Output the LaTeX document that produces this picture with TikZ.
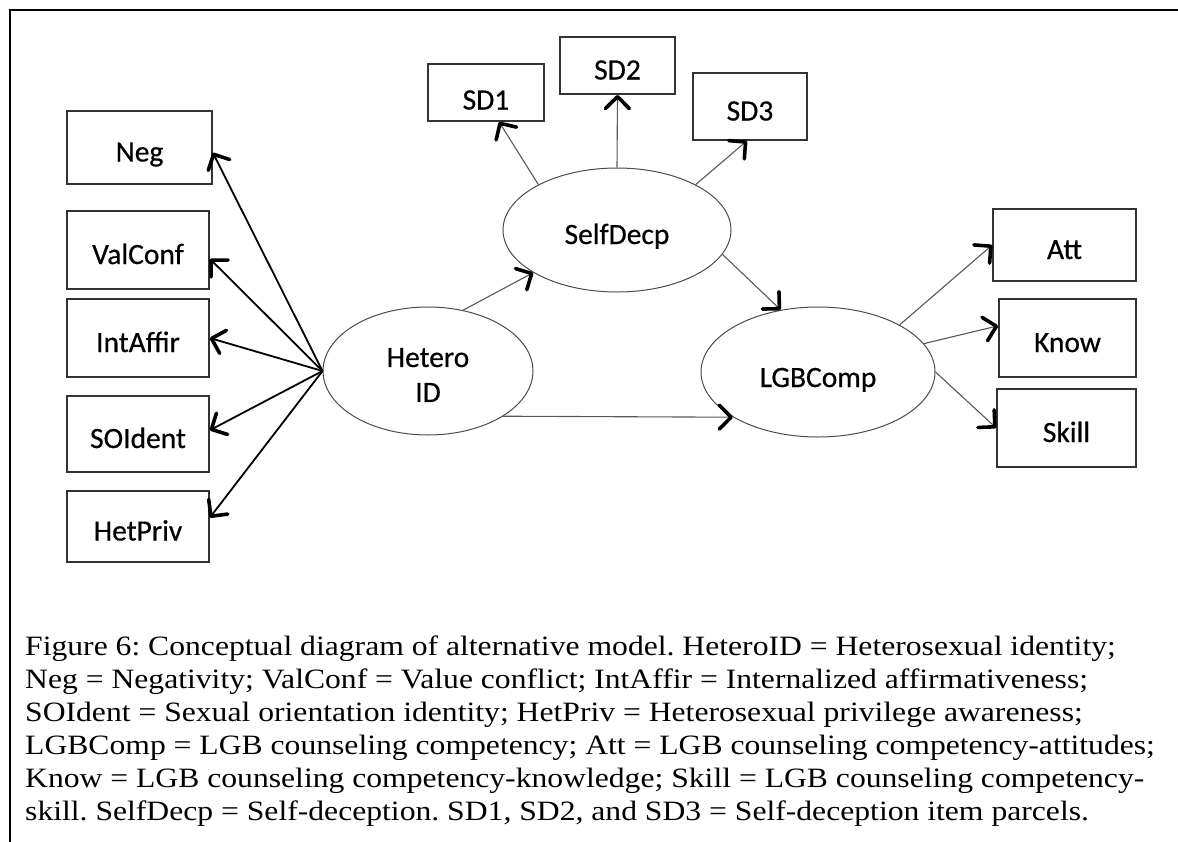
\documentclass[tikz,border=0pt]{standalone}
\usepackage{fontspec}
\setmainfont{Liberation Serif}
\newfontfamily\capfont[FakeStretch=1.13]{Liberation Serif}
\newfontfamily\carl[FakeBold=0.5]{Carlito}
\usetikzlibrary{shapes.geometric,arrows.meta}
\frenchspacing
\begin{document}
\begin{tikzpicture}[x=1pt,y=-1pt,
  boxfont/.style={font=\carl\fontsize{29.5}{35}\selectfont},
  box/.style={boxfont, draw=black!80, line width=1.6pt, inner sep=0pt, text height=28pt, text depth=0pt},
  lat/.style={boxfont, ellipse, draw=black!70, line width=1pt, inner sep=0pt, text height=28pt, text depth=0pt},
  head/.style={-{Straight Barb[length=12pt,width=24pt,line width=3.6pt,round,color=black]}},
  boldarr/.style={head, draw=black, line width=1.8pt},
  thinarr/.style={head, draw=black!65, line width=1.1pt},
  capline/.style={anchor=base west, inner sep=0pt, font=\capfont\fontsize{28}{33}\selectfont}
]
\useasboundingbox (0,0) rectangle (1178,841);
\fill[white] (0,0) rectangle (1178,841);
% frame
\draw[line width=2.6pt] (10,845) -- (10,10) -- (1185,10);

% indicator boxes left
\node[box, minimum width=145pt, minimum height=73pt] (neg) at (139.5,147.5) {Neg};
\node[box, minimum width=142pt, minimum height=78pt] (valconf) at (138,250) {ValConf};
\node[box, minimum width=142pt, minimum height=78pt] (intaffir) at (138,338) {IntAffir};
\node[box, minimum width=142pt, minimum height=76pt] (soident) at (138,434) {SOIdent};
\node[box, minimum width=142pt, minimum height=71pt] (hetpriv) at (138,526.5) {HetPriv};

% SD boxes
\node[box, minimum width=116pt, minimum height=57pt] (sd1) at (486,92.5) {\raisebox{-3pt}{SD1}};
\node[box, minimum width=115pt, minimum height=57pt] (sd2) at (617.5,65.5) {SD2};
\node[box, minimum width=114pt, minimum height=67pt] (sd3) at (750,106.5) {SD3};

% right boxes
\node[box, minimum width=143pt, minimum height=72pt] (att) at (1064.5,245) {Att};
\node[box, minimum width=137pt, minimum height=78pt] (know) at (1067.5,338) {Know};
\node[box, minimum width=139pt, minimum height=78pt] (skill) at (1066.5,428) {Skill};

% latent variables
\node[lat, minimum width=210pt, minimum height=128pt,
      label={[boxfont, align=center, inner sep=0pt, yshift=-4pt]center:Hetero\\ID}] (het) at (428,371) {};
\node[lat, minimum width=228pt, minimum height=124pt] (selfd) at (617,230) {SelfDecp};
\node[lat, minimum width=234pt, minimum height=130pt] (lgb) at (818,372) {\raisebox{-1pt}{LGBComp}};

% arrows from HeteroID to indicators
\draw[boldarr] (het.west) -- (neg.-4);
\draw[boldarr] (het.west) -- (valconf.-7);
\draw[boldarr] (het.west) -- (intaffir.east);
\draw[boldarr] (het.west) -- (soident.3);
\draw[boldarr] (het.west) -- (hetpriv.7);

% SelfDecp indicators
\draw[thinarr] (selfd.150) -- (sd1.-66);
\draw[thinarr] (selfd.north) -- (sd2.south);
\draw[thinarr] (selfd.30) -- (sd3.-95);

% structural paths
\draw[thinarr] (het.60) -- (selfd.207);
\draw[thinarr] (selfd.-13) -- (lgb.121);
\draw[thinarr] (het.-31) -- (lgb.208.5);

% LGBComp indicators
\draw[thinarr] (lgb.30) -- (att.west);
\draw[thinarr] (lgb.15) -- (know.170);
\draw[thinarr] (lgb.east) -- (skill.west);

% caption
\node[capline] (cap1) at (25,655) {Figure 6: Conceptual diagram of alternative model. HeteroID = Heterosexual identity;};
\node[capline] (cap2) at (25,688) {Neg = Negativity; ValConf = Value conflict; IntAffir = Internalized affirmativeness;};
\node[capline] (cap3) at (25,721) {SOIdent = Sexual orientation identity; HetPriv = Heterosexual privilege awareness;};
\node[capline] (cap4) at (25,754) {LGBComp = LGB counseling competency; Att = LGB counseling competency-attitudes;};
\node[capline] (cap5) at (25,787) {Know = LGB counseling competency-knowledge; Skill = LGB counseling competency-};
\node[capline] (cap6) at (25,820) {skill. SelfDecp = Self-deception. SD1, SD2, and SD3 = Self-deception item parcels.};
\end{tikzpicture}
\end{document}
